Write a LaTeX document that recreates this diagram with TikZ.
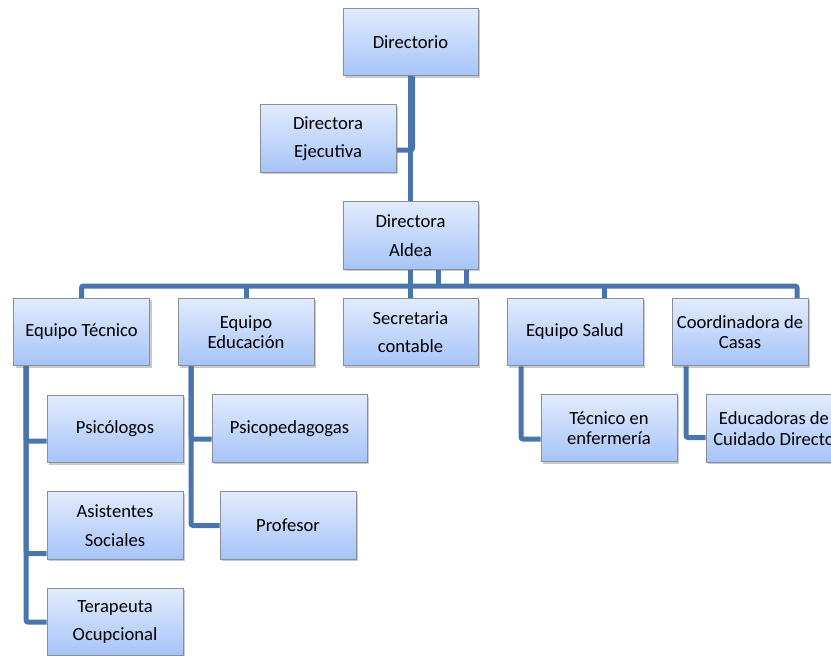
\documentclass[tikz,border=0pt]{standalone}
\usepackage{fontspec}
\setmainfont{Carlito}
\usetikzlibrary{shadows,calc}
\definecolor{linec}{HTML}{4A74AC}
\definecolor{boxtop}{HTML}{E2EBFD}
\definecolor{boxbot}{HTML}{A6C4F8}
\definecolor{boxdraw}{HTML}{8A8E96}
\pgfdeclarelayer{bg}
\pgfsetlayers{bg,main}
\tikzset{
  orgbox/.style={draw=boxdraw, line width=1pt, top color=boxtop, bottom color=boxbot,
    minimum width=136pt, minimum height=67.5pt, inner sep=0pt, align=center,
    font=\fontsize{18.6}{20.5}\selectfont,
    drop shadow={shadow xshift=2pt, shadow yshift=-2pt, opacity=0.35, fill=black!60}},
  loose/.style={font=\fontsize{18.6}{28.5}\selectfont},
  conn/.style={draw=linec, line width=5pt, rounded corners=2pt}
}
\begin{document}
\begin{tikzpicture}[x=1pt,y=1pt]
\useasboundingbox (0,0) rectangle (831,-656);
% boxes
\node[orgbox, minimum width=135pt] (dir) at (410.5,-42) {Directorio};
\node[orgbox, loose] (eje) at (328,-138.5) {Directora\\Ejecutiva};
\node[orgbox, loose, minimum width=135pt] (ald) at (410.5,-235.5) {Directora\\Aldea};
\node[orgbox] (teq) at (81.5,-332) {Equipo Técnico};
\node[orgbox] (edc) at (246,-332) {Equipo\\Educación};
\node[orgbox, loose, minimum width=135pt] (sec) at (410.5,-332) {Secretaria\\contable};
\node[orgbox] (sal) at (575,-332) {Equipo Salud};
\node[orgbox] (coo) at (740,-332) {Coordinadora de\\Casas};
\node[orgbox] (psi) at (115,-429) {Psicólogos};
\node[orgbox, loose] (asi) at (115,-525.5) {Asistentes\\Sociales};
\node[orgbox, loose] (ter) at (115,-622) {Terapeuta\\Ocupcional};
\node[orgbox, minimum width=155pt] (psp) at (289.5,-428.5) {Psicopedagogas};
\node[orgbox] (pro) at (288,-525.5) {Profesor};
\node[orgbox] (tec) at (609,-428) {Técnico en\\enfermería};
\node[orgbox] (edu) at (774,-428.5) {Educadoras de\\Cuidado Directo};
% connectors
\begin{pgfonlayer}{bg}
\coordinate (bus) at (0,-286);
\draw[conn] ([yshift=-11.5pt]eje.east) -| ([xshift=2pt]dir.south);
\draw[conn] (dir.south) -- (ald.north);
\draw[conn] (teq.north) -- (teq.north |- bus) -- ([xshift=57pt]coo.north |- bus) -- ([xshift=57pt]coo.north);
\draw[conn] (edc.north) -- (edc.north |- bus);
\draw[conn] ([xshift=29pt]sal.north) -- ([xshift=29pt]sal.north |- bus);
\draw[conn] (ald.south) -- (sec.north);
\draw[conn] ([xshift=28pt]ald.south) -- ([xshift=28pt]ald.south |- bus);
\draw[conn] ([xshift=56pt]ald.south) -- ([xshift=56pt]ald.south |- bus);
\draw[conn] ([xshift=-55.5pt]teq.south) |- ([yshift=-12pt]psi.west);
\draw[conn] ([xshift=-55.5pt]teq.south) |- ([yshift=-28pt]asi.west);
\draw[conn] ([xshift=-55.5pt]teq.south) |- (ter.west);
\draw[conn] ([xshift=-55pt]edc.south) |- ([yshift=-10.5pt]psp.west);
\draw[conn] ([xshift=-55pt]edc.south) |- (pro.west);
\draw[conn] ([xshift=-54pt]sal.south) |- ([yshift=-11pt]tec.west);
\draw[conn] ([xshift=-54pt]coo.south) |- ([yshift=-9pt]edu.west);
\end{pgfonlayer}
\end{tikzpicture}
\end{document}
